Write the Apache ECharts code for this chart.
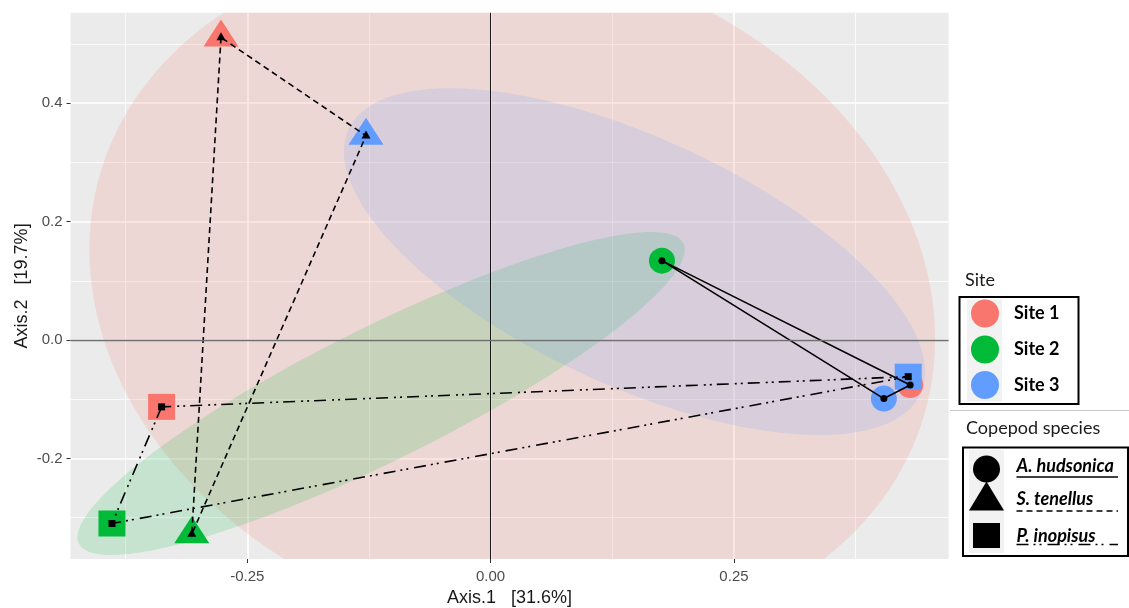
<!DOCTYPE html>
<html>
<head>
<meta charset="utf-8">
<script src="https://cdn.jsdelivr.net/npm/echarts@6/dist/echarts.min.js"></script>
<style>html,body{margin:0;padding:0;background:#fff}#c{width:1129px;height:608px}</style>
</head>
<body>
<div id="c"></div>
<script>
// ---- data ----
const sites = ['Site 1', 'Site 2', 'Site 3'];
const speciesNames = ['A. hudsonica', 'S. tenellus', 'P. inopisus'];
// coordinates per species, ordered by site (Site 1, Site 2, Site 3)
const hudsonicaX = [0.431, 0.176, 0.404];
const hudsonicaY = [-0.076, 0.134, -0.099];
const tenellusX = [-0.277, -0.307, -0.128];
const tenellusY = [0.511, -0.328, 0.345];
const inopisusX = [-0.338, -0.389, 0.429];
const inopisusY = [-0.113, -0.310, -0.062];
// ellipse per site: centre and two conjugate semi-axis vectors (data units)
const ellipseCX = [0.0222, -0.1125, 0.1478];
const ellipseCY = [0.0774, -0.0904, 0.1323];
const ellipseUX = [0.4344, 0.3119, 0.2985];
const ellipseUY = [-0.0756, 0.2426, -0.1860];
const ellipseVY = [0.5797, 0.1248, 0.2262];
// axes
const xRange = [-0.4316, 0.4705];
const yRange = [-0.370, 0.5527];
const xMajorTicks = [-0.25, 0, 0.25];
const xMinorTicks = [-0.375, -0.125, 0.125, 0.375];
const yMajorTicks = [-0.2, 0, 0.2, 0.4];
const yMinorTicks = [-0.3, -0.1, 0.1, 0.3, 0.5];

// ---- styles ----
const siteColors = ['#F8766D', '#00BA38', '#619CFF'];
const siteFill = ['rgba(248,118,109,0.17)', 'rgba(0,186,56,0.16)', 'rgba(97,156,255,0.16)'];
const speciesX = [hudsonicaX, tenellusX, inopisusX];
const speciesY = [hudsonicaY, tenellusY, inopisusY];
const bigSymbol = ['circle', 'triangle', 'rect'];
const bigSize = [26, [35, 27], [27, 26]];
const bigOffset = [[0, 0], [0, -4.5], [0, 0]];
const smallSize = [7, [9, 8], 7];
const smallOffset = [[0, 0], [0, -1.3], [0, 0]];
const lineTypes = ['solid', [6, 4], [12, 5, 2, 4, 2, 6]];
const FONT = 'Liberation Sans, Arial, sans-serif';
const LFONT = 'Lato, Carlito, sans-serif';

const chart = echarts.init(document.getElementById('c'), null, {renderer: 'canvas'});

const series = [];
// ellipses
series.push({
  type: 'custom',
  name: 'ellipses',
  xAxisIndex: 0, yAxisIndex: 0,
  clip: true,
  silent: true,
  z: 1,
  data: sites.map((s, i) => [ellipseCX[i], ellipseCY[i], i]),
  renderItem: function (params, api) {
    const i = api.value(2);
    const pts = [];
    const N = 160;
    for (let k = 0; k < N; k++) {
      const t = 2 * Math.PI * k / N;
      const x = ellipseCX[i] + ellipseUX[i] * Math.cos(t);
      const y = ellipseCY[i] + ellipseUY[i] * Math.cos(t) + ellipseVY[i] * Math.sin(t);
      pts.push(api.coord([x, y]));
    }
    return {type: 'polygon', shape: {points: pts}, style: {fill: siteFill[i], stroke: null}};
  }
});
// coloured symbols
speciesNames.forEach((sp, j) => {
  series.push({
    type: 'scatter',
    name: sp + ' (site)',
    z: 2,
    silent: true,
    symbol: bigSymbol[j],
    symbolSize: bigSize[j],
    symbolOffset: bigOffset[j],
    data: sites.map((s, i) => ({value: [speciesX[j][i], speciesY[j][i]], itemStyle: {color: siteColors[i], opacity: 1}})),
    markLine: j === 0 ? {
      silent: true, symbol: 'none', label: {show: false}, animation: false,
      data: [
        {xAxis: 0, lineStyle: {color: '#000', width: 0.9, type: 'solid'}},
        {yAxis: 0, lineStyle: {color: '#707070', width: 1.4, type: 'solid'}}
      ]
    } : undefined
  });
});
// connecting lines
speciesNames.forEach((sp, j) => {
  const d = [0, 1, 2, 0].map(i => [speciesX[j][i], speciesY[j][i]]);
  series.push({
    type: 'line',
    name: sp,
    z: 3,
    silent: true,
    symbol: 'none',
    data: d,
    lineStyle: {color: '#000', width: 1.6, type: lineTypes[j]}
  });
});
// small black points
speciesNames.forEach((sp, j) => {
  series.push({
    type: 'scatter',
    name: sp + ' (point)',
    z: 4,
    silent: true,
    symbol: bigSymbol[j],
    symbolSize: smallSize[j],
    symbolOffset: smallOffset[j],
    itemStyle: {color: '#000', opacity: 1},
    data: sites.map((s, i) => [speciesX[j][i], speciesY[j][i]])
  });
});

// ---- legend graphics ----
const g = [];
g.push({type: 'text', left: 965, top: 271, style: {text: 'Site', font: '18px ' + LFONT, fill: '#1a1a1a'}});
g.push({type: 'rect', shape: {x: 959.5, y: 297, width: 119, height: 107}, style: {fill: '#fff', stroke: '#000', lineWidth: 2}});
g.push({type: 'rect', shape: {x: 967, y: 299.5, width: 35, height: 102}, style: {fill: '#F2F2F2'}});
const siteY = [313.5, 349.5, 385];
sites.forEach((s, i) => {
  g.push({type: 'circle', shape: {cx: 985, cy: siteY[i], r: 14}, style: {fill: siteColors[i]}});
  g.push({type: 'text', x: 1014, y: siteY[i], style: {text: s, font: 'bold 18px ' + LFONT, fill: '#000', textVerticalAlign: 'middle', verticalAlign: 'middle'}});
});
g.push({type: 'line', shape: {x1: 950, y1: 410.5, x2: 1129, y2: 410.5}, style: {stroke: '#C8C8C8', lineWidth: 1}});
g.push({type: 'text', left: 966, top: 419, style: {text: 'Copepod species', font: '18px ' + LFONT, fill: '#1a1a1a'}});
g.push({type: 'rect', shape: {x: 963, y: 447.5, width: 165, height: 108.5}, style: {fill: '#fff', stroke: '#000', lineWidth: 2}});
g.push({type: 'rect', shape: {x: 969, y: 450, width: 35, height: 103}, style: {fill: '#F2F2F2'}});
g.push({type: 'circle', shape: {cx: 986.5, cy: 469, r: 13.5}, style: {fill: '#000'}});
g.push({type: 'polygon', shape: {points: [[986.5, 481.5], [1004, 510.5], [969, 510.5]]}, style: {fill: '#000'}});
g.push({type: 'rect', shape: {x: 973, y: 523, width: 27, height: 25}, style: {fill: '#000'}});
const spY = [466.5, 499, 536];
const ulY = [477, 511, 544.5];
speciesNames.forEach((sp, j) => {
  g.push({type: 'text', x: 1016.5, y: spY[j], style: {text: sp, font: 'italic bold 18px ' + LFONT, fill: '#000', textVerticalAlign: 'middle', verticalAlign: 'middle'}});
  g.push({type: 'line', shape: {x1: 1016.5, y1: ulY[j], x2: 1118, y2: ulY[j]}, style: {stroke: '#000', lineWidth: 1.4, lineDash: lineTypes[j] === 'solid' ? null : lineTypes[j]}});
});

const option = {
  animation: false,
  backgroundColor: '#fff',
  grid: {
    left: 70.5, right: 180.4, top: 12.8, bottom: 49,
    show: true, backgroundColor: '#EBEBEB', borderWidth: 0,
    containLabel: false, outerBoundsMode: 'none'
  },
  xAxis: [
    {
      type: 'value', min: xRange[0], max: xRange[1], position: 'bottom',
      axisLine: {show: false, onZero: false},
      axisTick: {show: true, customValues: xMajorTicks, length: 4, lineStyle: {color: '#333', width: 1}},
      axisLabel: {customValues: xMajorTicks, formatter: v => v.toFixed(2), color: '#4D4D4D', fontSize: 15, fontFamily: FONT, margin: 10},
      splitLine: {show: true, lineStyle: {color: '#fff', width: 1.7}},
      name: 'Axis.1   [31.6%]', nameLocation: 'middle', nameGap: 28,
      nameTextStyle: {fontSize: 18, color: '#1a1a1a', fontFamily: FONT}
    },
    {
      type: 'value', min: xRange[0], max: xRange[1], position: 'top',
      axisLine: {show: false, onZero: false},
      axisTick: {show: false, customValues: xMinorTicks},
      axisLabel: {show: false, customValues: xMinorTicks},
      splitLine: {show: true, lineStyle: {color: '#fff', width: 0.8}}
    }
  ],
  yAxis: [
    {
      type: 'value', min: yRange[0], max: yRange[1], position: 'left',
      axisLine: {show: false, onZero: false},
      axisTick: {show: true, customValues: yMajorTicks, length: 4, lineStyle: {color: '#333', width: 1}},
      axisLabel: {customValues: yMajorTicks, formatter: v => v.toFixed(1), color: '#4D4D4D', fontSize: 15, fontFamily: FONT, margin: 8},
      splitLine: {show: true, lineStyle: {color: '#fff', width: 1.7}},
      name: 'Axis.2   [19.7%]', nameLocation: 'middle', nameGap: 39, nameRotate: 90, nameMoveOverlap: false,
      nameTextStyle: {fontSize: 18, color: '#1a1a1a', fontFamily: FONT}
    },
    {
      type: 'value', min: yRange[0], max: yRange[1], position: 'right',
      axisLine: {show: false, onZero: false},
      axisTick: {show: false, customValues: yMinorTicks},
      axisLabel: {show: false, customValues: yMinorTicks},
      splitLine: {show: true, lineStyle: {color: '#fff', width: 0.8}}
    }
  ],
  series: series,
  graphic: g
};
chart.setOption(option);
</script>
</body>
</html>
